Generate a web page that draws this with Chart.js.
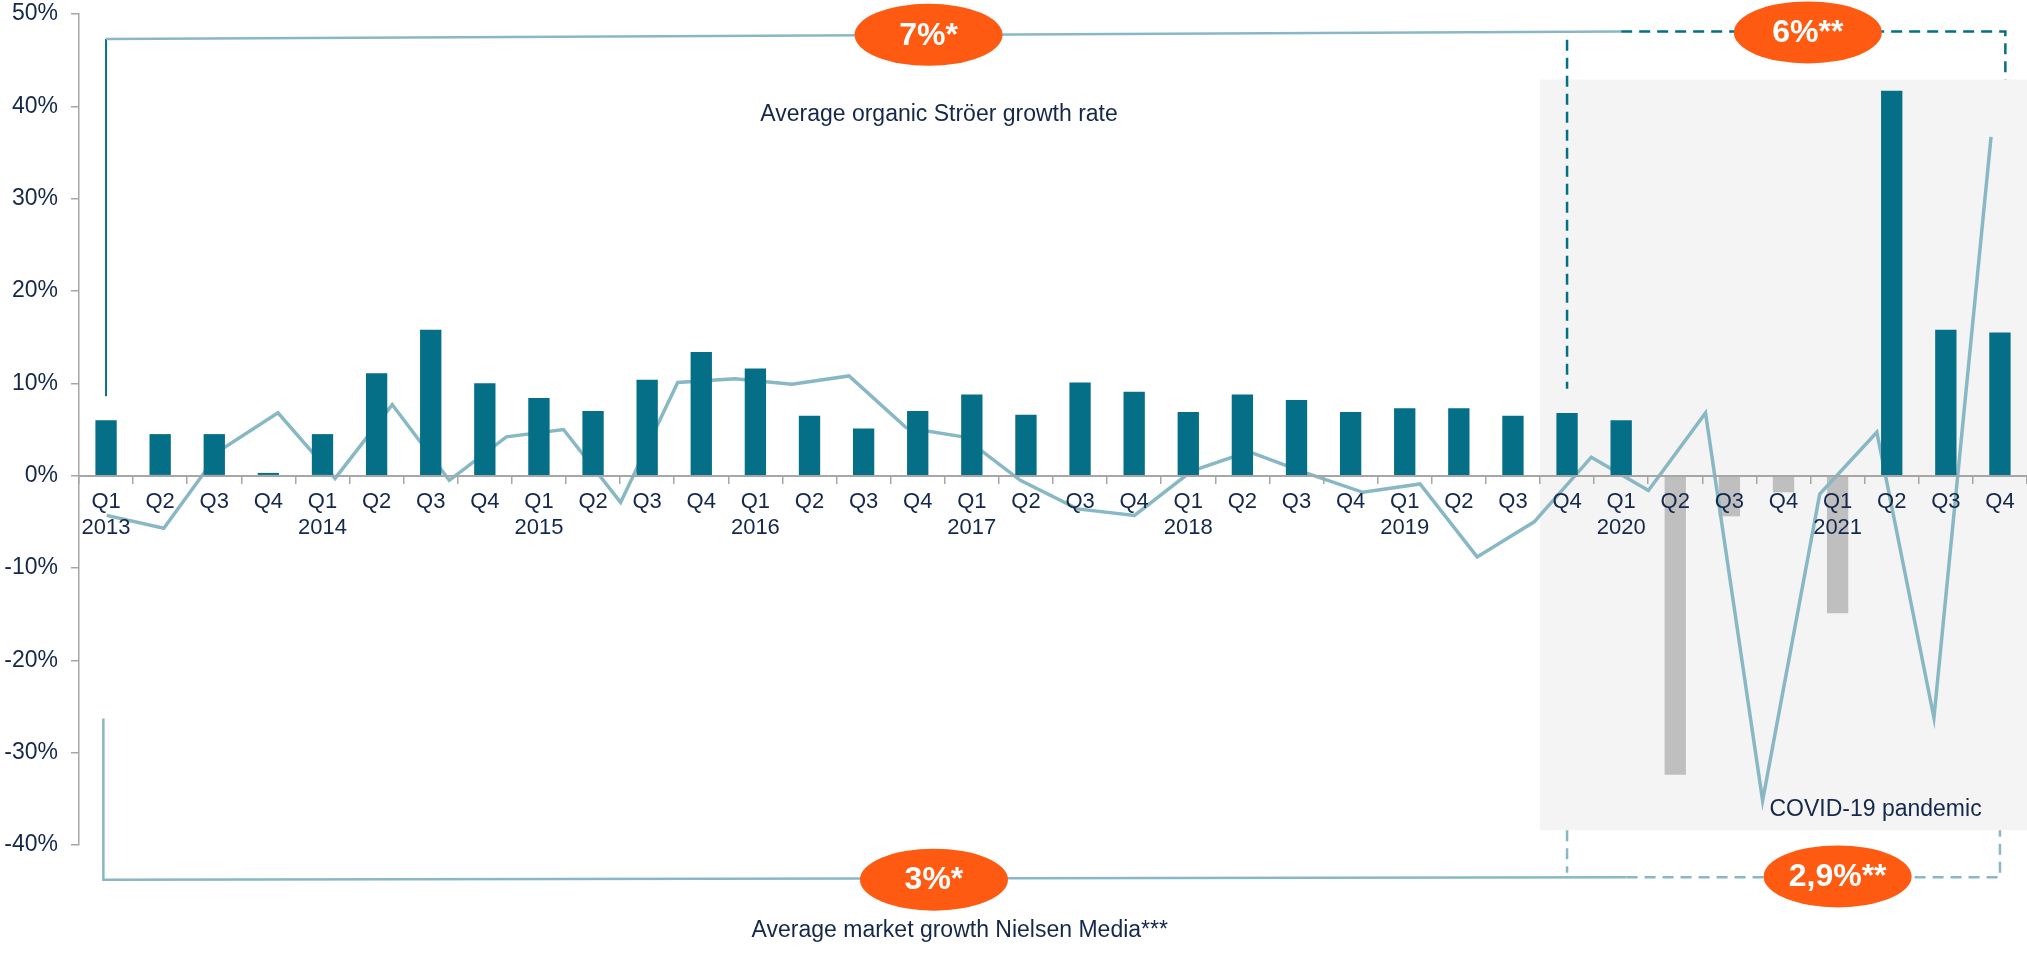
<!DOCTYPE html>
<html>
<head>
<meta charset="utf-8">
<title>Organic growth Ströer vs. market</title>
<script src="https://cdn.jsdelivr.net/npm/chart.js@4.4.1/dist/chart.umd.min.js"></script>
<style>
  html, body { margin: 0; padding: 0; background: #fff; }
  canvas { display: block; }
</style>
</head>
<body>
<canvas id="growthChart" width="2027" height="953"></canvas>
<script>
// quarters 2013 - 2021
const years = ['2013', '2014', '2015', '2016', '2017', '2018', '2019', '2020', '2021'];
const quarters = ['Q1', 'Q2', 'Q3', 'Q4'];

// organic Ströer growth per quarter, %
const stroerGrowth = [
  6.0, 4.5, 4.5, 0.3,
  4.5, 11.1, 15.8, 10.0,
  8.4, 7.0, 10.4, 13.4,
  11.6, 6.5, 5.1, 7.0,
  8.8, 6.6, 10.1, 9.1,
  6.9, 8.8, 8.2, 6.9,
  7.3, 7.3, 6.5, 6.8,
  6.0, -32.4, -4.4, -1.8,
  -14.9, 41.7, 15.8, 15.5
];

// market growth Nielsen Media, % (own x scale)
const nielsenGrowth = [
  -4.3, -5.7, 2.8, 6.8, -0.3, 7.7, -0.5, 4.2, 5.0, -2.9,
  10.1, 10.5, 9.9, 10.8, 5.2, 4.2, -0.5, -3.6, -4.3, 0.5,
  2.6, 0.3, -1.8, -0.9, -8.8, -5.0, 2.0, -1.6, 6.8, -35.2,
  -2.0, 4.7, -26.2, 36.7
];

const yTicks = [-40, -30, -20, -10, 0, 10, 20, 30, 40, 50];

const avgStroer = '7%*';
const avgStroerCovid = '6%**';
const avgMarket = '3%*';
const avgMarketCovid = '2,9%**';

const labels = [];
years.forEach(yr => quarters.forEach((q, i) => labels.push(i === 0 ? [q, yr] : q)));

const navy = '#14284B';
const teal = '#056F88';
const lightLine = '#88B8C4';
const orange = '#FF5A11';
const axisGrey = '#A6A6A6';
const font = '"Liberation Sans", Arial, sans-serif';

function path(ctx, pts, color, width, dash) {
  ctx.beginPath();
  ctx.setLineDash(dash || []);
  ctx.strokeStyle = color;
  ctx.lineWidth = width;
  pts.forEach((p, i) => i ? ctx.lineTo(p[0], p[1]) : ctx.moveTo(p[0], p[1]));
  ctx.stroke();
  ctx.setLineDash([]);
}

function bubble(ctx, cx, cy, text) {
  ctx.beginPath();
  ctx.ellipse(cx, cy, 74, 31, 0, 0, Math.PI * 2);
  ctx.fillStyle = orange;
  ctx.fill();
  ctx.fillStyle = '#fff';
  ctx.font = 'bold 32px ' + font;
  ctx.textAlign = 'center';
  ctx.textBaseline = 'middle';
  ctx.fillText(text, cx, cy + 1);
}

function note(ctx, x, y, text) {
  ctx.fillStyle = navy;
  ctx.font = '23px ' + font;
  ctx.textAlign = 'left';
  ctx.textBaseline = 'middle';
  ctx.fillText(text, x, y);
}

const overlays = {
  id: 'overlays',
  beforeDraw(chart) {
    // covid period shading
    const { ctx, chartArea } = chart;
    const x = chart.scales.x, y = chart.scales.y;
    const left = x.getPixelForValue(26.5);
    const top = y.getPixelForValue(42.9);
    const bottom = y.getPixelForValue(-38.4);
    ctx.save();
    ctx.fillStyle = '#F4F4F4';
    ctx.fillRect(left, top, chartArea.right - left, bottom - top);
    ctx.restore();
  },
  afterDraw(chart) {
    const { ctx } = chart;
    const x = chart.scales.x, y = chart.scales.y;
    const px = v => x.getPixelForValue(v);
    const py = v => y.getPixelForValue(v);
    ctx.save();

    // Ströer average bracket
    path(ctx, [[px(0), py(8.6)], [px(0), py(47.3)]], teal, 2);
    path(ctx, [[px(0), py(47.3)], [px(28), py(48.1)]], lightLine, 2.5);
    path(ctx, [[px(28), py(48.1)], [px(35.1), py(48.1)], [px(35.1), py(42.9)]], teal, 2.5, [11, 7]);
    path(ctx, [[px(27), py(47.2)], [px(27), py(9.4)]], teal, 2.5, [11, 7]);
    bubble(ctx, px(15.2), py(47.75), avgStroer);
    bubble(ctx, px(31.45), py(48.0), avgStroerCovid);
    note(ctx, px(12.09), py(39.1), 'Average organic Ströer growth rate');

    // market average bracket
    path(ctx, [[px(-0.05), py(-26.3)], [px(-0.05), py(-43.75)], [px(28.1), py(-43.5)]], lightLine, 2.5);
    path(ctx, [[px(28.1), py(-43.5)], [px(35), py(-43.5)], [px(35), py(-38.4)]], lightLine, 2.5, [11, 7]);
    path(ctx, [[px(27), py(-38.4)], [px(27), py(-43.0)]], lightLine, 2.5, [11, 7]);
    bubble(ctx, px(15.3), py(-43.75), avgMarket);
    bubble(ctx, px(32), py(-43.4), avgMarketCovid);
    note(ctx, px(11.93), py(-49.3), 'Average market growth Nielsen Media***');

    note(ctx, px(30.74), py(-36.2), 'COVID-19 pandemic');
    ctx.restore();
  }
};

new Chart(document.getElementById('growthChart').getContext('2d'), {
  type: 'bar',
  data: {
    labels: labels,
    datasets: [
      {
        label: 'Ströer negative',
        data: stroerGrowth.map(v => v < 0 ? v : null),
        backgroundColor: '#BFBFBF',
        grouped: false,
        barPercentage: 0.394,
        categoryPercentage: 1,
        order: 3
      },
      {
        type: 'line',
        label: 'Nielsen Media',
        data: nielsenGrowth.map((v, i) => ({ x: i, y: v })),
        xAxisID: 'xLine',
        borderColor: lightLine,
        borderWidth: 3.5,
        pointRadius: 0,
        tension: 0,
        order: 2
      },
      {
        label: 'Ströer organic',
        data: stroerGrowth.map(v => v >= 0 ? v : null),
        backgroundColor: teal,
        grouped: false,
        barPercentage: 0.394,
        categoryPercentage: 1,
        order: 1
      }
    ]
  },
  options: {
    responsive: false,
    devicePixelRatio: 1,
    animation: false,
    layout: { padding: { top: 14, bottom: 108, left: 0, right: 0 } },
    plugins: {
      legend: { display: false },
      tooltip: { enabled: false }
    },
    scales: {
      x: {
        position: { y: 0 },
        afterFit: s => { s.paddingLeft = 0; s.paddingRight = 0; },
        grid: {
          offset: true,
          drawOnChartArea: false,
          tickLength: 7,
          color: axisGrey,
          lineWidth: 1.5,
          z: 1
        },
        border: { color: axisGrey, width: 2, z: 1 },
        ticks: {
          color: navy,
          font: { family: font, size: 22, lineHeight: 1.2 },
          padding: 6,
          autoSkip: false,
          maxRotation: 0,
          z: 1
        }
      },
      xLine: {
        type: 'linear',
        display: false,
        offset: false,
        grid: { offset: false },
        min: -0.485,
        max: 33.63
      },
      y: {
        min: yTicks[0],
        max: yTicks[yTicks.length - 1],
        afterBuildTicks: s => { s.ticks = yTicks.map(v => ({ value: v })); },
        afterFit: s => { s.width = 79; s.paddingTop = 0; s.paddingBottom = 0; },
        grid: {
          drawOnChartArea: false,
          tickLength: 8,
          color: axisGrey,
          lineWidth: 1.5
        },
        border: { color: axisGrey, width: 1.5 },
        ticks: {
          color: navy,
          font: { family: font, size: 23 },
          padding: 13,
          callback: v => v + '%'
        }
      }
    }
  },
  plugins: [overlays]
});
</script>
</body>
</html>
